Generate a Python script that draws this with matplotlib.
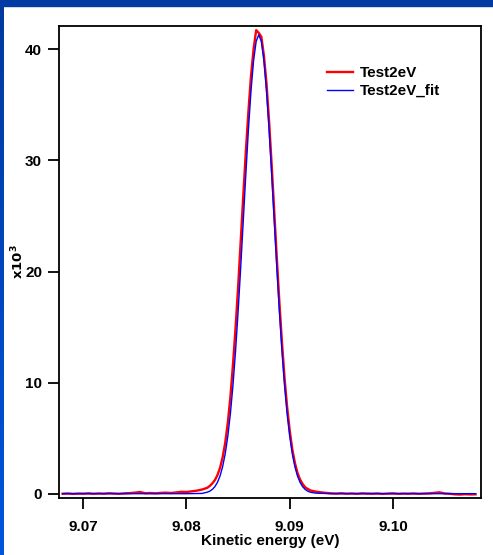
import matplotlib
matplotlib.use('Agg')
import matplotlib.pyplot as plt
import numpy as np
from matplotlib.patches import Rectangle
from matplotlib.colors import LinearSegmentedColormap

data_x = [9.0680, 9.0685, 9.0690, 9.0695, 9.0700, 9.0705, 9.0710, 9.0715, 9.0720, 9.0725,
          9.0730, 9.0735, 9.0740, 9.0745, 9.0750, 9.0755, 9.0760, 9.0765, 9.0770, 9.0775,
          9.0780, 9.0785, 9.0790, 9.0795, 9.0800, 9.0805, 9.0810, 9.0815,
          9.08200, 9.08225, 9.08250, 9.08275, 9.08300, 9.08325, 9.08350, 9.08375,
          9.08400, 9.08425, 9.08450, 9.08475, 9.08500, 9.08525, 9.08550, 9.08575,
          9.08600, 9.08625, 9.08650, 9.08675, 9.08700, 9.08725, 9.08750, 9.08775,
          9.08800, 9.08825, 9.08850, 9.08875, 9.08900, 9.08925, 9.08950, 9.08975,
          9.09000, 9.09025, 9.09050, 9.09075, 9.09100, 9.09125, 9.09150, 9.09175, 9.09200,
          9.0925, 9.0930, 9.0935, 9.0940, 9.0945, 9.0950, 9.0955, 9.0960, 9.0965, 9.0970,
          9.0975, 9.0980, 9.0985, 9.0990, 9.0995, 9.1000, 9.1005, 9.1010, 9.1015, 9.1020,
          9.1025, 9.1030, 9.1035, 9.1040, 9.1045, 9.1050, 9.1055, 9.1060, 9.1065, 9.1070,
          9.1075, 9.1080]
data_y = [0.02, 0.05, 0.01, 0.04, 0.03, 0.06, 0.02, 0.05, 0.03, 0.07,
          0.04, 0.02, 0.06, 0.08, 0.12, 0.18, 0.07, 0.09, 0.06, 0.10,
          0.12, 0.09, 0.14, 0.20, 0.18, 0.24, 0.30, 0.40,
          0.55, 0.72, 0.95, 1.25, 1.70, 2.35, 3.30, 4.60,
          6.40, 8.70, 11.60, 14.90, 18.60, 22.70, 26.80, 30.80,
          34.40, 37.60, 40.00, 41.70, 41.45, 41.10, 39.40, 36.90,
          33.50, 29.60, 25.40, 21.20, 17.20, 13.60, 10.40, 7.80,
          5.70, 4.00, 2.80, 1.90, 1.30, 0.90, 0.60, 0.45, 0.32,
          0.22, 0.15, 0.10, 0.06, 0.04, 0.07, 0.03, 0.05, 0.02, 0.06,
          0.04, 0.03, 0.05, 0.01, 0.04, 0.06, 0.02, 0.04, 0.03, 0.05,
          0.02, 0.04, 0.06, 0.10, 0.15, 0.05, 0.02, -0.03, -0.05, -0.02,
          -0.04, -0.03]

# Fit curve
fit_x = [9.0680, 9.0800, 9.0815,
         9.08200, 9.08225, 9.08250, 9.08275, 9.08300, 9.08325, 9.08350, 9.08375,
         9.08400, 9.08425, 9.08450, 9.08475, 9.08500, 9.08525, 9.08550, 9.08575,
         9.08600, 9.08625, 9.08650, 9.08675, 9.08700, 9.08725, 9.08750, 9.08775,
         9.08800, 9.08825, 9.08850, 9.08875, 9.08900, 9.08925, 9.08950, 9.08975,
         9.09000, 9.09025, 9.09050, 9.09075, 9.09100, 9.09125, 9.09150, 9.09175, 9.09200,
         9.0925, 9.0940, 9.1080]
fit_y = [0.03, 0.03, 0.05,
         0.16, 0.25, 0.41, 0.66, 1.05, 1.62, 2.46, 3.61,
         5.17, 7.20, 9.74, 12.82, 16.38, 20.34, 24.54, 28.76,
         32.76, 36.25, 38.96, 40.69, 41.28, 40.69, 38.96, 36.25,
         32.76, 28.76, 24.54, 20.34, 16.38, 12.82, 9.74, 7.20,
         5.17, 3.61, 2.46, 1.62, 1.05, 0.66, 0.41, 0.25, 0.16,
         0.08, 0.03, 0.03]

x_ticks = [9.07, 9.08, 9.09, 9.10]
x_tick_labels = ['9.07', '9.08', '9.09', '9.10']
y_ticks = [0, 10, 20, 30, 40]

plt.rcParams['font.family'] = ['Liberation Sans', 'DejaVu Sans']
plt.rcParams['font.weight'] = 'bold'
plt.rcParams['font.size'] = 11

fig = plt.figure(figsize=(4.93, 5.55), dpi=100)

# blue frame: top band and left gradient strip
fig.patches.append(Rectangle((0, 1 - 6 / 555), 1, 6 / 555, transform=fig.transFigure,
                             color='#003aa3', zorder=0))
strip = fig.add_axes([0, 0, 4 / 493, 1 - 6 / 555])
grad = np.linspace(0, 1, 100).reshape(-1, 1)
cm = LinearSegmentedColormap.from_list('frame', ['#003a9f', '#0055dd'])
strip.imshow(grad, aspect='auto', cmap=cm, extent=[0, 1, 0, 1], origin='upper')
strip.axis('off')

ax = fig.add_axes([58.7 / 493, 1 - 498 / 555, 422.3 / 493, 472 / 555])
ax.plot(data_x, data_y, color='#ff0000', lw=1.7, label='Test2eV')
ax.plot(fit_x, fit_y, color='#0000ff', lw=1.0, label='Test2eV_fit')

ax.set_xlim(9.06762, 9.10853)
ax.set_ylim(-0.36, 42.07)
ax.set_xticks(x_ticks)
ax.set_xticklabels(x_tick_labels)
ax.set_yticks(y_ticks)
ax.tick_params(direction='out', length=8, width=1.3, pad=4)
ax.tick_params(axis='x', pad=8)
for s in ax.spines.values():
    s.set_linewidth(1.3)

ax.set_xlabel('Kinetic energy (eV)', fontweight='bold', labelpad=0)
ax.set_ylabel(r'$\mathbf{x10^3}$', fontsize=9.5)
ax.yaxis.set_label_coords(-0.077, 0.5)

ax.legend(loc='upper left', bbox_to_anchor=(0.635, 0.915), frameon=False,
          borderpad=0, borderaxespad=0, handlelength=1.7, handletextpad=0.45,
          labelspacing=0.25, prop={'weight': 'bold', 'size': 11})

fig.savefig('out.png', dpi=100)
